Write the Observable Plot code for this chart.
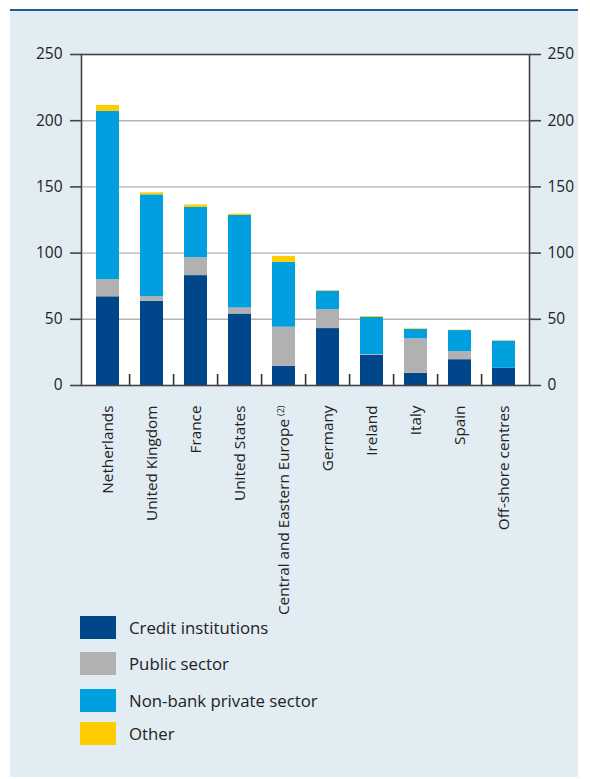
<!DOCTYPE html>
<html>
<head>
<meta charset="utf-8">
<script src="https://cdn.jsdelivr.net/npm/d3@7"></script>
<script src="https://cdn.jsdelivr.net/npm/@observablehq/plot@0.6"></script>
<style>
  html, body { margin: 0; padding: 0; background: #ffffff; }
  body { width: 590px; height: 779px; position: relative; overflow: hidden; font-family: "Open Sans", "Noto Sans", sans-serif; }
  #panel { position: absolute; left: 10px; top: 9px; width: 568px; height: 766px; background: #e1ecf3; border-top: 2px solid #1d5a9a; }
  #chart { position: absolute; left: 0; top: 0; }
  #legend { position: absolute; left: 80px; top: 616px; }
  .item { position: absolute; left: 0; height: 23px; white-space: nowrap; }
  .sw { position: absolute; left: 0; top: 0; width: 36px; height: 23px; }
  .lab { position: absolute; left: 49px; top: 0; line-height: 23px; font-size: 16.8px; color: #222; }
</style>
</head>
<body>
<div id="panel"></div>
<div id="chart"></div>
<div id="legend"></div>
<script>
const categories = ["Netherlands", "United Kingdom", "France", "United States", "Central and Eastern Europe", "Germany", "Ireland", "Italy", "Spain", "Off-shore centres"];
const seriesNames = ["Credit institutions", "Public sector", "Non-bank private sector", "Other"];
const seriesColors = ["#00468b", "#b1b1b1", "#009fe0", "#ffcc00"];
const creditInstitutions = [67, 63.5, 83, 54, 14.5, 43, 22.7, 9.3, 19.5, 13];
const publicSector = [13, 3.5, 13.5, 4.5, 29.5, 14.4, 0.7, 26, 6, 0];
const nonBankPrivate = [127, 77, 38, 70, 49, 13.8, 28, 7, 16, 20.5];
const otherSector = [4.5, 1.5, 1.8, 1, 4.5, 0.4, 0.7, 0.5, 0.3, 0.3];
const yTicks = [0, 50, 100, 150, 200, 250];
const gridTicks = [50, 100, 150, 200];

const seriesValues = [creditInstitutions, publicSector, nonBankPrivate, otherSector];
const data = [];
categories.forEach((c, i) => {
  seriesNames.forEach((s, j) => {
    data.push({category: c, series: s, value: seriesValues[j][i]});
  });
});

const W = 590, H = 580, ML = 81, MR = 61;
const step = (W - ML - MR) / categories.length;

const chart = Plot.plot({
  width: W,
  height: H,
  marginLeft: ML,
  marginRight: MR,
  marginTop: 54,
  marginBottom: 195,
  style: {background: "transparent", fontFamily: "Open Sans, Noto Sans, sans-serif", fontSize: "15px", color: "#222", overflow: "visible"},
  x: {domain: categories, paddingInner: 0.48, paddingOuter: 0.24, axis: null, label: null},
  y: {domain: [0, 250], axis: null, label: null},
  color: {domain: seriesNames, range: seriesColors},
  marks: [
    Plot.frame({fill: "white", stroke: null}),
    Plot.ruleY(gridTicks, {stroke: "#b4b4b4", strokeWidth: 1.4}),
    Plot.barY(data, Plot.stackY({order: null}, {x: "category", y: "value", fill: "series", z: "series", insetLeft: 0, insetRight: 0})),
    Plot.ruleX(categories.slice(1), {x: d => d, dx: -step / 2, y1: 0, y2: 8.3, stroke: "#333", strokeWidth: 1.6}),
    Plot.frame({stroke: "#444", strokeWidth: 1.6}),
    Plot.axisY({anchor: "left", label: null, ticks: yTicks, tickSize: 11, tickPadding: 8, stroke: "#444", strokeWidth: 1.6, fontSize: 15.5, tickFormat: d => String(d)}),
    Plot.axisY({anchor: "right", label: null, ticks: yTicks, tickSize: 11, tickPadding: 7, stroke: "#444", strokeWidth: 1.6, fontSize: 15.5, tickFormat: d => String(d)}),
    Plot.axisX({anchor: "bottom", label: null, tickSize: 0, tickPadding: 20, tickRotate: -90, fontSize: 15.3})
  ]
});
document.getElementById("chart").appendChild(chart);

// superscript footnote on CEE label
d3.select(chart).selectAll("text").each(function() {
  const t = d3.select(this);
  if (t.text() === "Central and Eastern Europe") {
    t.append("tspan").attr("dy", "-0.6em").attr("font-size", "9px").attr("dx", "3").text("(2)");
  }
});

const legend = document.getElementById("legend");
const legendTops = [0, 36, 73, 106];
seriesNames.forEach((s, i) => {
  const it = document.createElement("div");
  it.className = "item";
  it.style.top = legendTops[i] + "px";
  it.innerHTML = `<div class="sw" style="background:${seriesColors[i]}"></div><div class="lab">${s}</div>`;
  legend.appendChild(it);
});
</script>
</body>
</html>
